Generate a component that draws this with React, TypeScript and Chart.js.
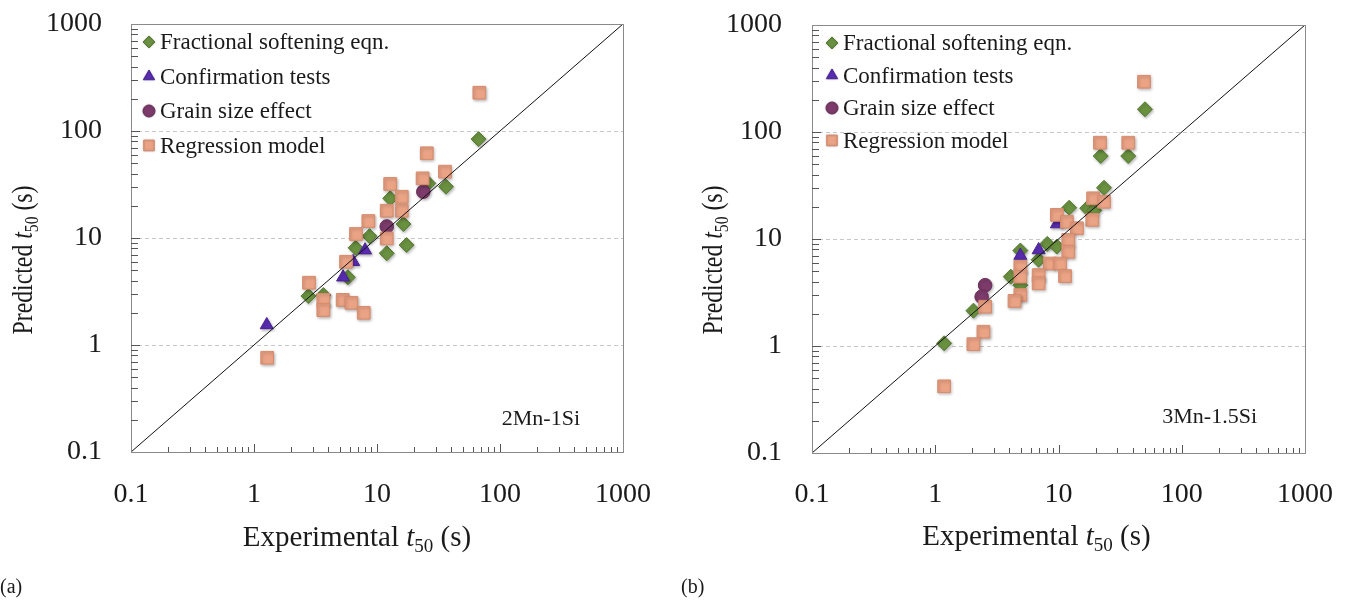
import React, { useEffect, useRef } from "react";
import { Chart, registerables } from "chart.js";

Chart.register(...registerables);

// ---------- data ----------
const SERIES_LABELS = [
  "Fractional softening eqn.",
  "Confirmation tests",
  "Grain size effect",
  "Regression model",
];
const DECADE_TICKS = [0.1, 1, 10, 100, 1000];
const GRID_VALUES = [1, 10, 100];
const AXIS_MIN = 0.1;
const AXIS_MAX = 1000;

// Panel (a) 2Mn-1Si
const A_FRACTIONAL_X = [67, 36.4, 26.1, 12.8, 16.4, 17.4, 12.0, 8.7, 6.7, 5.8, 2.77, 3.66];
const A_FRACTIONAL_Y = [84, 30.2, 32.4, 23.5, 13.5, 8.6, 7.2, 10.4, 8.1, 4.3, 2.87, 2.93];
const A_CONFIRM_X = [1.27, 5.3, 6.4, 8.0];
const A_CONFIRM_Y = [1.54, 4.3, 6.0, 7.7];
const A_GRAIN_X = [23.8, 12.0];
const A_GRAIN_Y = [27.1, 12.8];
const A_REGRESSION_X = [67.9, 25.4, 35.7, 23.5, 12.8, 15.9, 12.0, 15.9, 8.5, 6.75, 12.0, 5.6, 2.8, 3.66, 3.66, 5.26, 6.2, 7.8, 1.28];
const A_REGRESSION_Y = [228, 61.9, 41.7, 36.1, 32.0, 24.3, 18.0, 18.0, 14.4, 10.9, 9.9, 6.0, 3.82, 2.64, 2.12, 2.64, 2.48, 2.0, 0.76];

// Panel (b) 3Mn-1.5Si
const B_FRACTIONAL_X = [50.3, 22.0, 36.8, 23.4, 17.1, 12.2, 8.1, 9.7, 4.9, 6.9, 4.1, 4.9, 2.04, 1.18, 19.5];
const B_FRACTIONAL_Y = [163, 59.7, 59.7, 30.1, 19.4, 19.6, 9.0, 8.5, 7.8, 6.4, 4.45, 3.7, 2.14, 1.06, 18.5];
const B_CONFIRM_X = [9.7, 6.9, 4.9];
const B_CONFIRM_Y = [13.8, 7.9, 7.0];
const B_GRAIN_X = [2.54, 2.38];
const B_GRAIN_Y = [3.7, 2.89];
const B_REGRESSION_X = [49.4, 21.7, 36.8, 19.1, 23.4, 18.8, 9.7, 11.7, 14.1, 12.0, 12.0, 8.5, 10.3, 11.3, 4.9, 4.9, 6.9, 6.9, 4.9, 4.4, 2.54, 2.46, 2.04, 1.18];
const B_REGRESSION_Y = [295, 79.4, 79.4, 24.0, 22.3, 15.1, 16.8, 14.5, 12.6, 9.8, 7.6, 5.9, 5.9, 4.5, 5.5, 4.45, 4.6, 3.85, 3.0, 2.64, 2.33, 1.36, 1.04, 0.42];

const IDENTITY_X = [AXIS_MIN, AXIS_MAX];
const IDENTITY_Y = [AXIS_MIN, AXIS_MAX];

// ---------- styles ----------
const SERIF = "'Liberation Serif', 'Times New Roman', serif";
const STYLES = [
  { pointStyle: "rectRot", radius: 7.5, fill: "#6a9140", stroke: "#587a34", legendR: 6 },
  { pointStyle: "triangle", radius: 7.5, fill: "#5a2db2", stroke: "#4a2494", legendR: 6.5 },
  { pointStyle: "circle", radius: 6.8, fill: "#7d3b6b", stroke: "#692f5a", legendR: 6 },
  { pointStyle: "rect", radius: 9, fill: "#eba385", stroke: "#d88b6c", legendR: 7.5 },
];

function zip(xs: number[], ys: number[]) {
  return xs.map((x, i) => ({ x, y: ys[i] }));
}

function isDecade(v: number) {
  const l = Math.log10(v);
  return Math.abs(l - Math.round(l)) < 1e-9;
}

function drawMarker(ctx: CanvasRenderingContext2D, style: string, x: number, y: number, r: number, fill: string, stroke: string) {
  ctx.beginPath();
  if (style === "rectRot") {
    ctx.moveTo(x, y - r);
    ctx.lineTo(x + r, y);
    ctx.lineTo(x, y + r);
    ctx.lineTo(x - r, y);
    ctx.closePath();
  } else if (style === "triangle") {
    ctx.moveTo(x, y - r);
    ctx.lineTo(x + r * 0.866, y + r * 0.5);
    ctx.lineTo(x - r * 0.866, y + r * 0.5);
    ctx.closePath();
  } else if (style === "circle") {
    ctx.arc(x, y, r, 0, Math.PI * 2);
  } else {
    const s = r * Math.SQRT1_2;
    ctx.rect(x - s, y - s, 2 * s, 2 * s);
  }
  ctx.fillStyle = fill;
  ctx.fill();
  ctx.strokeStyle = stroke;
  ctx.lineWidth = 1;
  ctx.stroke();
}

type Part = { text: string; size: number; italic?: boolean; dy?: number };

function drawRich(ctx: CanvasRenderingContext2D, parts: Part[], cx: number, baseline: number, rotate: boolean, squeeze: number, cyForRotate?: number) {
  ctx.save();
  const widths = parts.map((p) => {
    ctx.font = `${p.italic ? "italic " : ""}${p.size}px ${SERIF}`;
    return ctx.measureText(p.text).width;
  });
  const total = widths.reduce((a, b) => a + b, 0);
  ctx.fillStyle = "#1a1a1a";
  ctx.textBaseline = "alphabetic";
  ctx.textAlign = "left";
  if (rotate) {
    ctx.translate(baseline, cyForRotate as number);
    ctx.rotate(-Math.PI / 2);
  } else {
    ctx.translate(cx, baseline);
  }
  ctx.scale(squeeze, 1);
  let x = -total / 2;
  parts.forEach((p, i) => {
    ctx.font = `${p.italic ? "italic " : ""}${p.size}px ${SERIF}`;
    ctx.fillText(p.text, x, p.dy || 0);
    x += widths[i];
  });
  ctx.restore();
}

type PanelProps = {
  left: number;
  width: number;
  padRight: number;
  padTop: number;
  yWidth: number;
  xHeight: number;
  yTickPad: number;
  xTickPad: number;
  note: string;
  noteRight: number;
  noteBaseline: number;
  xTitleShift: number;
  xTitleBaseline: number;
  yTitleBaseline: number;
  yTitleCenter: number;
  legendX: number;
  legendTop: number;
  legendStep: number;
  fx: number[]; fy: number[];
  cx: number[]; cy: number[];
  gx: number[]; gy: number[];
  rx: number[]; ry: number[];
};

function Panel(p: PanelProps) {
  const ref = useRef<HTMLCanvasElement | null>(null);
  useEffect(() => {
    const canvas = ref.current;
    if (!canvas) return;
    const series = [zip(p.fx, p.fy), zip(p.cx, p.cy), zip(p.gx, p.gy), zip(p.rx, p.ry)];
    const orders = [4, 3, 2, 1];
    const datasets: any[] = series.map((data, i) => ({
      label: SERIES_LABELS[i],
      data,
      order: orders[i],
      pointStyle: STYLES[i].pointStyle,
      pointRadius: STYLES[i].radius,
      pointBackgroundColor: STYLES[i].fill,
      pointBorderColor: STYLES[i].stroke,
      pointBorderWidth: 1,
      showLine: false,
    }));
    datasets.push({
      label: "identity",
      data: zip(IDENTITY_X, IDENTITY_Y),
      showLine: true,
      borderColor: "#111",
      borderWidth: 1,
      pointRadius: 0,
      order: 0,
      isIdentity: true,
    });

    const deco = {
      id: "deco",
      beforeDatasetsDraw(chart: any) {
        const { ctx, chartArea: a, scales } = chart;
        ctx.save();
        ctx.strokeStyle = "#c8c8c8";
        ctx.lineWidth = 1;
        ctx.setLineDash([4, 3]);
        GRID_VALUES.forEach((v) => {
          const y = Math.round(scales.y.getPixelForValue(v)) + 0.5;
          ctx.beginPath();
          ctx.moveTo(a.left, y);
          ctx.lineTo(a.right, y);
          ctx.stroke();
        });
        ctx.restore();
      },
      beforeDatasetDraw(chart: any, args: any) {
        const ds = chart.data.datasets[args.index];
        if (ds.isIdentity) return;
        const ctx = chart.ctx;
        ctx.save();
        ctx.shadowColor = "rgba(0,0,0,0.28)";
        ctx.shadowBlur = 3;
        ctx.shadowOffsetX = 1;
        ctx.shadowOffsetY = 1.5;
      },
      afterDatasetDraw(chart: any, args: any) {
        const ds = chart.data.datasets[args.index];
        if (ds.isIdentity) return;
        chart.ctx.restore();
      },
      afterDraw(chart: any) {
        const { ctx, chartArea: a, scales } = chart;
        ctx.save();
        // frame
        ctx.strokeStyle = "#8a8a8a";
        ctx.lineWidth = 1;
        ctx.strokeRect(Math.round(a.left) + 0.5, Math.round(a.top) + 0.5, Math.round(a.right - a.left), Math.round(a.bottom - a.top));
        // inward tick marks
        ctx.strokeStyle = "#555";
        for (let d = AXIS_MIN; d < AXIS_MAX * 0.99; d *= 10) {
          for (let m = 1; m <= 9; m++) {
            const v = d * m;
            const major = m === 1;
            const xp = Math.round(scales.x.getPixelForValue(v)) + 0.5;
            const yp = Math.round(scales.y.getPixelForValue(v)) + 0.5;
            if (!major || d > AXIS_MIN) {
              ctx.beginPath();
              ctx.moveTo(xp, a.bottom);
              ctx.lineTo(xp, a.bottom - (major ? 8 : 5));
              ctx.stroke();
              ctx.beginPath();
              ctx.moveTo(a.left, yp);
              ctx.lineTo(a.left + (major ? 9 : 7), yp);
              ctx.stroke();
            }
          }
        }
        // legend
        SERIES_LABELS.forEach((label, i) => {
          const y = a.top + p.legendTop + i * p.legendStep;
          const s = STYLES[i];
          ctx.save();
          ctx.shadowColor = "rgba(0,0,0,0.25)";
          ctx.shadowBlur = 2;
          drawMarker(ctx, s.pointStyle, a.left + p.legendX, y, s.legendR, s.fill, s.stroke);
          ctx.restore();
          ctx.fillStyle = "#1a1a1a";
          ctx.font = `23px ${SERIF}`;
          ctx.textAlign = "left";
          ctx.textBaseline = "middle";
          ctx.fillText(label, a.left + p.legendX + 11, y + 1);
        });
        // note
        ctx.font = `22px ${SERIF}`;
        ctx.textAlign = "right";
        ctx.textBaseline = "alphabetic";
        ctx.fillStyle = "#1a1a1a";
        ctx.fillText(p.note, a.right - p.noteRight, p.noteBaseline);
        ctx.restore();
        // axis titles
        drawRich(
          ctx,
          [
            { text: "Experimental ", size: 29 },
            { text: "t", size: 29, italic: true },
            { text: "50", size: 19, dy: 6 },
            { text: " (s)", size: 29 },
          ],
          (a.left + a.right) / 2 + p.xTitleShift,
          p.xTitleBaseline,
          false,
          1
        );
        drawRich(
          ctx,
          [
            { text: "Predicted ", size: 29 },
            { text: "t", size: 29, italic: true },
            { text: "50", size: 19, dy: 6 },
            { text: " (s)", size: 29 },
          ],
          0,
          p.yTitleBaseline,
          true,
          0.82,
          p.yTitleCenter
        );
      },
    };

    const tickFont = { family: SERIF, size: 28 };
    const chart = new Chart(canvas, {
      type: "scatter",
      data: { datasets },
      options: {
        animation: false,
        responsive: false,
        maintainAspectRatio: false,
        layout: { autoPadding: false, padding: { left: 0, top: p.padTop, right: p.padRight, bottom: 0 } },
        plugins: { legend: { display: false }, tooltip: { enabled: false } },
        scales: {
          x: {
            type: "logarithmic",
            min: AXIS_MIN,
            max: AXIS_MAX,
            grid: { display: false, drawTicks: true, tickLength: p.xTickPad },
            border: { display: false },
            afterBuildTicks: (scale: any) => {
              scale.ticks = DECADE_TICKS.map((v) => ({ value: v }));
            },
            ticks: {
              autoSkip: false,
              maxRotation: 0,
              padding: 0,
              color: "#1a1a1a",
              font: tickFont,
              callback: (v: any) => (isDecade(Number(v)) ? String(Number(v)) : ""),
            },
            afterFit: (scale: any) => {
              scale.height = p.xHeight;
            },
          },
          y: {
            type: "logarithmic",
            min: AXIS_MIN,
            max: AXIS_MAX,
            grid: { display: false, drawTicks: true, tickLength: p.yTickPad },
            border: { display: false },
            afterBuildTicks: (scale: any) => {
              scale.ticks = DECADE_TICKS.map((v) => ({ value: v }));
            },
            ticks: {
              autoSkip: false,
              padding: 0,
              color: "#1a1a1a",
              font: tickFont,
              callback: (v: any) => (isDecade(Number(v)) ? String(Number(v)) : ""),
            },
            afterFit: (scale: any) => {
              scale.width = p.yWidth;
            },
          },
        },
      },
      plugins: [deco],
    } as any);
    return () => chart.destroy();
  }, []);
  return (
    <canvas
      ref={ref}
      width={p.width}
      height={601}
      style={{ position: "absolute", left: p.left, top: 0, width: p.width, height: 601 }}
    />
  );
}

export default function App() {
  return (
    <div style={{ position: "absolute", left: 0, top: 0, width: 1347, height: 601, background: "#fff", overflow: "hidden" }}>
      <Panel
        left={0}
        width={670}
        padRight={47}
        padTop={24}
        yWidth={131}
        xHeight={149}
        yTickPad={29}
        xTickPad={26}
        note="2Mn-1Si"
        noteRight={43}
        noteBaseline={425}
        xTitleShift={-20}
        xTitleBaseline={546}
        yTitleBaseline={32}
        yTitleCenter={260}
        legendX={18}
        legendTop={18}
        legendStep={34.5}
        fx={A_FRACTIONAL_X} fy={A_FRACTIONAL_Y}
        cx={A_CONFIRM_X} cy={A_CONFIRM_Y}
        gx={A_GRAIN_X} gy={A_GRAIN_Y}
        rx={A_REGRESSION_X} ry={A_REGRESSION_Y}
      />
      <Panel
        left={680}
        width={667}
        padRight={42}
        padTop={25}
        yWidth={132}
        xHeight={148}
        yTickPad={30}
        xTickPad={25}
        note="3Mn-1.5Si"
        noteRight={48}
        noteBaseline={423}
        xTitleShift={-22}
        xTitleBaseline={545}
        yTitleBaseline={42}
        yTitleCenter={260}
        legendX={20}
        legendTop={18}
        legendStep={32.5}
        fx={B_FRACTIONAL_X} fy={B_FRACTIONAL_Y}
        cx={B_CONFIRM_X} cy={B_CONFIRM_Y}
        gx={B_GRAIN_X} gy={B_GRAIN_Y}
        rx={B_REGRESSION_X} ry={B_REGRESSION_Y}
      />
      <div style={{ position: "absolute", left: 0, top: 574, fontFamily: SERIF, fontSize: 20, lineHeight: "24px", color: "#1a1a1a" }}>(a)</div>
      <div style={{ position: "absolute", left: 681, top: 574, fontFamily: SERIF, fontSize: 20, lineHeight: "24px", color: "#1a1a1a" }}>(b)</div>
    </div>
  );
}
